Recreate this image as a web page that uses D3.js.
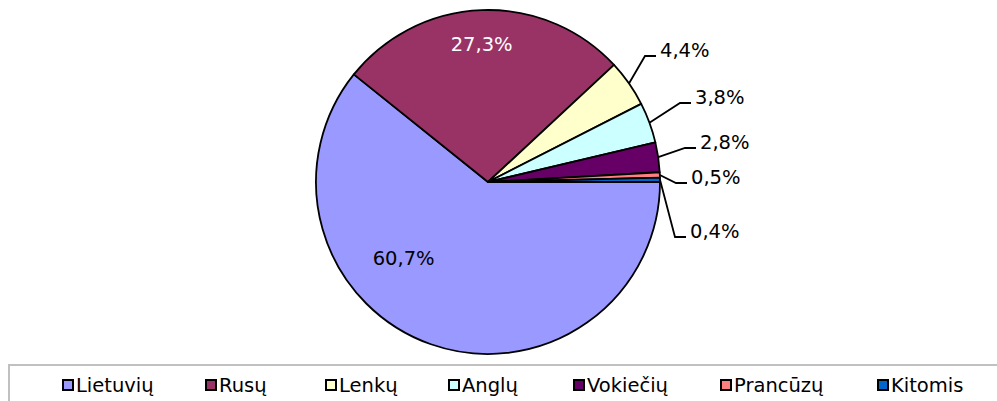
<!DOCTYPE html>
<html>
  <head>
    <meta charset="utf-8">
    <title></title>
    <script src="https://d3js.org/d3.v7.min.js" charset="utf-8"></script>
    <style type="text/css">
      body { margin: 0; background: #fff; }
      text { font-family: "DejaVu Sans", Verdana, sans-serif; }
    </style>
  </head>
  <body>
    <script type="text/javascript">

      // Data
      var categories = ["Lietuvių", "Rusų", "Lenkų", "Anglų", "Vokiečių", "Prancūzų", "Kitomis"];
      var shares = [60.7, 27.3, 4.4, 3.8, 2.8, 0.5, 0.4];
      var labels = ["60,7%", "27,3%", "4,4%", "3,8%", "2,8%", "0,5%", "0,4%"];
      var colors = ["#9999ff", "#993366", "#ffffcc", "#ccffff", "#660066", "#ff8080", "#0066cc"];

      // Setup size
      var width = 997, height = 401;
      var cx = 488, cy = 182, r = 172;
      var fontSize = 19.5;

      var svg = d3.select("body").append("svg")
          .attr("width", width)
          .attr("height", height);

      // pie starts at 3 o'clock and runs clockwise
      var pie = d3.pie().sort(null)
          .startAngle(Math.PI / 2)
          .endAngle(Math.PI / 2 + 2 * Math.PI);
      var arcs = pie(shares);

      var arc = d3.arc().innerRadius(0).outerRadius(r);

      var g = svg.append("g").attr("transform", "translate(" + cx + "," + cy + ")");

      g.selectAll("path.slice")
          .data(arcs)
          .enter().append("path")
          .attr("class", "slice")
          .attr("d", arc)
          .attr("fill", function(d, i) { return colors[i]; })
          .attr("stroke", "#000")
          .attr("stroke-width", 1.8)
          .attr("stroke-linejoin", "round");

      // inside labels for the two big slices: [angle shift (rad), radius factor]
      var inPlace = [[0.5, 0.66], [-0.01, 0.8]];
      g.selectAll("text.inlabel")
          .data(arcs.slice(0, 2))
          .enter().append("text")
          .attr("class", "inlabel")
          .attr("transform", function(d, i) {
            var a = (d.startAngle + d.endAngle) / 2 + inPlace[i][0];
            var rr = r * inPlace[i][1];
            return "translate(" + (Math.sin(a) * rr) + "," + (-Math.cos(a) * rr) + ")";
          })
          .attr("dy", "0.35em")
          .attr("text-anchor", "middle")
          .attr("font-size", fontSize)
          .attr("fill", function(d, i) { return i == 1 ? "#fff" : "#000"; })
          .text(function(d, i) { return labels[i]; });

      // outside labels with leader lines: elbow x and row y, relative to centre
      var elbowX = [null, null, 157, 192, 197, 188, 187];
      var rowY = [null, null, -126, -79, -34, 1, 55];
      var outer = arcs.slice(2).map(function(d, j) {
        var i = j + 2;
        var a = (d.startAngle + d.endAngle) / 2;
        var p0 = [Math.sin(a) * r, -Math.cos(a) * r];
        return { i: i, p0: p0, p1: [elbowX[i], rowY[i]], p2: [elbowX[i] + 11, rowY[i]] };
      });

      g.selectAll("polyline.leader")
          .data(outer)
          .enter().append("polyline")
          .attr("class", "leader")
          .attr("points", function(d) { return [d.p0, d.p1, d.p2].map(function(p) { return p.join(","); }).join(" "); })
          .attr("fill", "none")
          .attr("stroke", "#000")
          .attr("stroke-width", 1.8);

      g.selectAll("text.outlabel")
          .data(outer)
          .enter().append("text")
          .attr("class", "outlabel")
          .attr("x", function(d) { return d.p2[0] + 4; })
          .attr("y", function(d) { return d.p2[1]; })
          .attr("dy", "0.05em")
          .attr("font-size", fontSize)
          .text(function(d) { return labels[d.i]; });

      // Legend
      svg.append("rect")
          .attr("x", 9).attr("y", 365)
          .attr("width", 1000).attr("height", 60)
          .attr("fill", "#fff")
          .attr("stroke", "#c0c0c0")
          .attr("stroke-width", 2);

      var legendX = [62, 205, 325, 448, 573, 720, 877];
      var lg = svg.selectAll("g.legend")
          .data(categories)
          .enter().append("g")
          .attr("class", "legend")
          .attr("transform", function(d, i) { return "translate(" + legendX[i] + ",385)"; });

      lg.append("rect")
          .attr("x", 1).attr("y", -5)
          .attr("width", 10).attr("height", 10)
          .attr("fill", function(d, i) { return colors[i]; })
          .attr("stroke", "#000")
          .attr("stroke-width", 2);

      lg.append("text")
          .attr("x", 14)
          .attr("y", 7)
          .attr("font-size", fontSize)
          .text(function(d) { return d; });

    </script>
  </body>
</html>
